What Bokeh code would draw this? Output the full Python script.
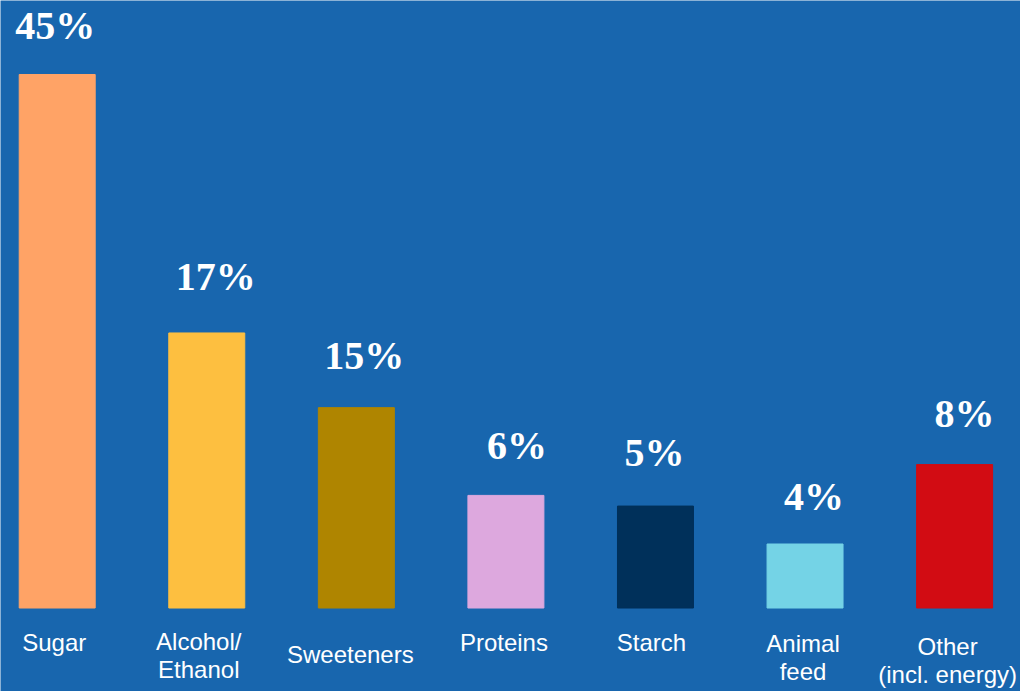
from bokeh.plotting import figure
from bokeh.models import ColumnDataSource, Range1d
from bokeh.core.properties import value
from bokeh.embed import file_html
from bokeh.resources import INLINE

# ---- data ----
categories = ["Sugar", "Alcohol/\nEthanol", "Sweeteners", "Proteins", "Starch",
              "Animal\nfeed", "Other\n(incl. energy)"]
share_labels = ["45%", "17%", "15%", "6%", "5%", "4%", "8%"]
# drawn bar heights as shown in the infographic (not to scale with the labels)
bar_heights = [45.0, 23.2, 16.9, 9.5, 8.6, 5.4, 12.1]
bar_colors = ["#FFA366", "#FDBF40", "#AF8500", "#DDA8DE", "#00305A", "#74D3E6", "#D20C13"]

# ---- styling ----
BG = "#1866AE"
pct_dx = [-2, 9, 8, 11, -1, 9, 10]        # pixel nudges of the % labels
pct_dy = [-2, 5, 1, -1, 3, -3, 0]
cat_dx = [-3, -8, -6, -2, -4, -2, -7]     # pixel nudges of the category labels
cat_dy = [0, -1, 12, 0, 0, 1, 4]

idx = list(range(len(categories)))
bars = ColumnDataSource(dict(x=idx, top=bar_heights, color=bar_colors,
                             label=share_labels, dx=pct_dx,
                             dy=[-51 - d for d in pct_dy]))

lx, ly, lt = [], [], []
for i, c in enumerate(categories):
    for k, line in enumerate(c.split("\n")):
        lx.append(i)
        ly.append(34.5 + cat_dy[i] + 28 * k)
        lt.append(line)
cat_src = ColumnDataSource(dict(x=lx, dy=ly, text=lt,
                                dx=[cat_dx[i] for i in lx], y=[0] * len(lx)))

p = figure(width=1020, height=691, output_backend="svg", toolbar_location=None,
           x_range=Range1d(-0.3791, 6.4405), y_range=Range1d(-7.04, 51.24),
           min_border=0, background_fill_color=BG, border_fill_color=BG)
p.axis.visible = False
p.grid.visible = False
p.outline_line_color = None

p.vbar(x="x", top="top", bottom=0, width=0.508, color="color", source=bars)

p.text(x="x", y="top", text="label", source=bars, x_offset="dx", y_offset="dy",
       text_font=value("Liberation Serif"), text_font_style="bold",
       text_font_size="40px", text_color="white",
       text_align="center", text_baseline="alphabetic")

p.text(x="x", y="y", text="text", source=cat_src, x_offset="dx", y_offset="dy",
       text_font=value("Liberation Sans"), text_font_size="24px",
       text_color="white", text_align="center", text_baseline="alphabetic")

open("out.html", "w").write(file_html(p, INLINE))
